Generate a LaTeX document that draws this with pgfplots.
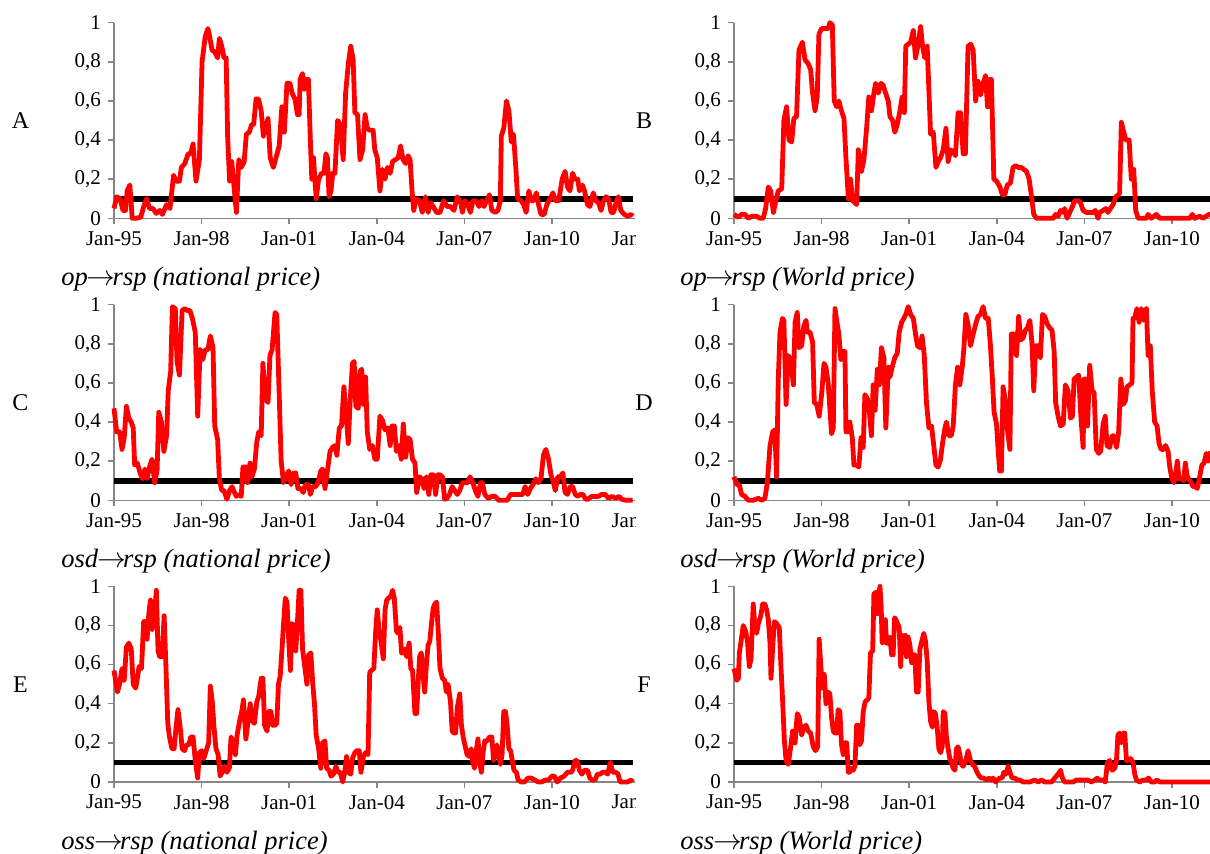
\documentclass[border=0pt]{standalone}
\usepackage{fontspec}
\setmainfont{Liberation Serif}
\usepackage{pgfplots}
\pgfplotsset{compat=1.18}
\definecolor{axisgray}{RGB}{134,134,134}
\pgfplotsset{panel/.style={
  scale only axis, width=262.76pt, height=97.8pt,
  xmin=0, xmax=216, ymin=0, ymax=1,
  axis x line*=bottom, axis y line*=left,
  axis line style={draw=axisgray, line width=0.75pt, -},
  xtick={0,36,72,108,144,180,216},
  xticklabels={Jan-95,Jan-98,Jan-01,Jan-04,Jan-07,Jan-10,Jan-13},
  ytick={0,0.2,0.4,0.6,0.8,1},
  yticklabels={0,{0,2},{0,4},{0,6},{0,8},1},
  tick style={draw=axisgray, line width=0.75pt},
  major tick length=3pt, tick align=outside,
  ticklabel style={font=\fontsize{10.5}{12}\selectfont},
  anchor=south west, clip=false},
  rpanel/.style={panel, xtick={0,36,72,108,144,180},
  xticklabels={Jan-95,Jan-98,Jan-01,Jan-04,Jan-07,Jan-10}}}
\tikzset{thr/.style={black, line width=2.8pt}, ser/.style={red, line width=2.4pt, line join=round}}
\newcommand{\capfont}{\fontsize{13.25}{15}\selectfont\itshape}
\newcommand{\letfont}{\fontsize{12}{14}\selectfont}
\newcommand{\arr}{\hspace{-0.5pt}$\rightarrow$\hspace{-1.5pt}}
\begin{document}
\begin{tikzpicture}
\useasboundingbox (0,0) rectangle (605pt,427pt);
\begin{scope}
\clip (0,0) rectangle (317.5pt,427pt);
% Panel A
\begin{axis}[panel, at={(57pt,317.85pt)}]
\addplot[thr] coordinates {(0,0.1)(213.5,0.1)};
\addplot[ser] coordinates {(0,0.05)(1.1,0.11)(2.5,0.10)(3.7,0.04)(4.7,0.04)(5.4,0.14)(6.5,0.17)(7.5,0)(8.9,0)(11,0.005)(12.2,0.06)(13.4,0.10)(14.6,0.05)(16,0.05)(17.4,0.025)(18.8,0.04)(19.9,0.02)(21.6,0.07)(23,0.05)(24.5,0.22)(25.5,0.19)(26.9,0.19)(27.7,0.26)(29.1,0.28)(30.5,0.33)(31.5,0.33)(32.5,0.38)(33.7,0.19)(35.1,0.30)(36.2,0.80)(37.5,0.93)(38.6,0.97)(39.3,0.93)(40.3,0.86)(41.4,0.85)(42.6,0.82)(43.3,0.92)(44.3,0.88)(45.2,0.82)(46.1,0.82)(46.7,0.42)(47.5,0.19)(48.4,0.29)(49.2,0.18)(50.3,0.03)(51.3,0.30)(52.3,0.26)(53.5,0.29)(54.4,0.43)(55.6,0.44)(56.6,0.48)(57.4,0.48)(58.4,0.61)(59.4,0.61)(60.5,0.55)(61.4,0.42)(62.4,0.47)(63.3,0.51)(64.2,0.31)(65.5,0.26)(66.6,0.31)(67.9,0.37)(69,0.57)(70,0.44)(71.1,0.69)(72.3,0.69)(73.2,0.64)(74.4,0.61)(75.4,0.53)(76.1,0.53)(76.5,0.71)(77.5,0.74)(78.2,0.66)(78.9,0.71)(79.9,0.71)(80.7,0.40)(81.3,0.20)(82,0.31)(83.1,0.10)(84.1,0.20)(85.3,0.23)(86.3,0.23)(87.1,0.33)(87.7,0.31)(88.4,0.11)(89.2,0.14)(89.9,0.23)(90.8,0.23)(91.9,0.50)(93,0.48)(94.2,0.30)(95.2,0.64)(96.3,0.79)(97.3,0.88)(98.3,0.81)(99,0.54)(100.1,0.53)(101.1,0.30)(102.2,0.35)(103.2,0.53)(104.1,0.46)(105.1,0.45)(106.5,0.45)(107.2,0.35)(108.2,0.31)(109.3,0.14)(110.3,0.25)(111.4,0.20)(112.4,0.26)(113.5,0.23)(114.5,0.29)(115.7,0.30)(116.8,0.31)(117.8,0.37)(118.8,0.30)(119.9,0.28)(120.9,0.32)(121.7,0.30)(122.5,0.14)(123.2,0.04)(124.1,0.10)(125.6,0.09)(126.7,0.03)(128,0.11)(129.1,0.03)(130.1,0.08)(131.2,0.06)(132.6,0.03)(134,0.03)(135.5,0.09)(136.9,0.06)(138.3,0.06)(139.7,0.04)(141.1,0.11)(142.5,0.08)(143.2,0.03)(144.2,0.09)(145.4,0.07)(146.5,0.03)(147.5,0.09)(148.9,0.09)(150,0.06)(151,0.09)(152.1,0.06)(153.1,0.09)(154.3,0.12)(155.3,0.04)(156.7,0.03)(157.8,0.04)(158.8,0.09)(159.2,0.42)(160.2,0.46)(161.3,0.60)(162.3,0.55)(163.3,0.39)(164.2,0.43)(165.2,0.25)(165.9,0.10)(167.3,0.09)(168.4,0.07)(169.4,0.03)(170.5,0.14)(171.5,0.09)(172.5,0.09)(173.6,0.13)(174.3,0.08)(175.5,0.02)(176.8,0.02)(177.9,0.07)(179.3,0.10)(180.4,0.13)(181.4,0.09)(182.8,0.09)(184.2,0.20)(185.4,0.24)(186.4,0.16)(187.4,0.14)(188.5,0.23)(189.5,0.20)(190.6,0.20)(191.3,0.14)(192.5,0.17)(193.4,0.14)(194.6,0.07)(195.6,0.06)(197,0.13)(198,0.09)(199.1,0.08)(200.2,0.04)(201.2,0.09)(202.2,0.11)(203.3,0.10)(204.3,0.03)(205.4,0.03)(206.5,0.09)(207.3,0.11)(208.3,0.04)(209.7,0.02)(211.1,0.01)(212.5,0.02)(213.2,0.01)};
\end{axis}
% Panel C
\begin{axis}[panel, at={(57pt,176.85pt)}]
\addplot[thr] coordinates {(0,0.1)(213.5,0.1)};
\addplot[ser] coordinates {(0,0.47)(1.1,0.35)(2.3,0.35)(3.3,0.26)(4.2,0.32)(5.1,0.48)(6.1,0.42)(7.1,0.40)(7.9,0.37)(8.5,0.18)(9.6,0.19)(10.7,0.14)(11.7,0.11)(12.7,0.16)(13.6,0.11)(14.6,0.17)(15.6,0.21)(16.7,0.09)(17.7,0.15)(18.4,0.45)(19.5,0.40)(20.5,0.25)(21.6,0.33)(22.3,0.56)(23.3,0.66)(24,0.99)(25.2,0.98)(25.9,0.71)(26.9,0.64)(28,0.97)(29.1,0.98)(30.1,0.97)(31.2,0.97)(32.2,0.93)(33.4,0.86)(34.4,0.43)(35.4,0.77)(36.5,0.72)(37.5,0.77)(38.6,0.77)(39.6,0.84)(40.7,0.78)(41.4,0.38)(42.6,0.31)(43.3,0.11)(44.3,0.05)(45.2,0.05)(46.4,0.005)(47.5,0.05)(48.5,0.07)(49.5,0.04)(50.3,0.02)(51.3,0.03)(52.3,0.02)(53,0.17)(54.2,0.17)(54.9,0.09)(55.9,0.19)(56.7,0.12)(57.7,0.16)(58.7,0.30)(59.5,0.35)(60.5,0.33)(61.2,0.70)(62.2,0.52)(63.3,0.50)(64.1,0.74)(65,0.77)(66.2,0.96)(66.9,0.95)(67.9,0.54)(68.7,0.20)(69.7,0.09)(70.7,0.12)(71.8,0.15)(72.8,0.08)(73.7,0.14)(74.7,0.14)(75.6,0.06)(76.8,0.06)(77.8,0.04)(78.6,0.08)(79.9,0.08)(80.7,0.03)(81.7,0.07)(82.9,0.07)(83.9,0.09)(85,0.15)(85.7,0.16)(86.7,0.06)(87.7,0.15)(88.8,0.25)(89.8,0.27)(90.8,0.28)(91.6,0.23)(92.6,0.37)(93.5,0.38)(94.5,0.58)(95.3,0.45)(96.3,0.29)(97,0.49)(98,0.70)(98.7,0.71)(99.4,0.48)(100.4,0.47)(101.1,0.66)(101.8,0.67)(102.5,0.49)(103.4,0.63)(104.1,0.35)(105.1,0.26)(106.2,0.28)(107.2,0.21)(108.2,0.21)(109.3,0.43)(110.3,0.41)(111.4,0.36)(112.6,0.37)(113.5,0.28)(114.3,0.38)(115.2,0.38)(116.1,0.25)(117.1,0.28)(118.1,0.21)(118.9,0.39)(119.9,0.22)(120.9,0.32)(121.7,0.31)(122.7,0.21)(123.7,0.19)(124.4,0.04)(125.6,0.12)(126.6,0.11)(127.4,0.06)(128.4,0.12)(129.4,0.03)(130.2,0.13)(131.2,0.13)(132.2,0.03)(133.1,0.13)(134,0.13)(135,0.12)(135.9,0.005)(136.9,0.01)(137.9,0.03)(139,0.07)(140,0.05)(141.1,0.03)(142.1,0.05)(143.2,0.09)(144.2,0.09)(145.4,0.09)(146.3,0.12)(147.5,0.09)(148.5,0.05)(149.6,0.02)(150.6,0.09)(151.4,0.09)(152.4,0.03)(153.8,0.01)(155.3,0.02)(156.7,0.02)(158.1,0)(159.5,0)(161.6,0)(163,0.03)(164.4,0.03)(166.6,0.03)(168,0.03)(169,0.07)(170.1,0.03)(171.1,0.06)(172.2,0.08)(173.4,0.11)(174.3,0.09)(175.5,0.11)(176.5,0.23)(177.5,0.26)(178.6,0.21)(179.6,0.13)(180.4,0.10)(181.4,0.05)(182.4,0.12)(183.5,0.12)(184.5,0.14)(185.4,0.04)(186.4,0.03)(187.5,0.07)(188.5,0.07)(189.6,0.03)(190.6,0.02)(191.7,0.03)(192.7,0.03)(193.9,0.005)(194.8,0.005)(196.3,0.02)(197.7,0.02)(199.1,0.02)(200.5,0.03)(201.9,0.03)(203.3,0.01)(204.7,0.02)(206.2,0.01)(207.6,0.02)(208.7,0.005)(210.3,0)(213.2,0)};
\end{axis}
% Panel E
\begin{axis}[panel, at={(57pt,36pt)}]
\addplot[thr] coordinates {(0,0.1)(213.5,0.1)};
\addplot[ser] coordinates {(0,0.57)(1.4,0.46)(2.3,0.50)(3.3,0.58)(4.2,0.52)(5.1,0.69)(6.1,0.71)(7.1,0.68)(7.9,0.50)(8.9,0.48)(9.6,0.53)(10.3,0.59)(11.3,0.58)(12.2,0.82)(12.9,0.82)(13.6,0.73)(14.3,0.86)(15,0.93)(15.7,0.78)(16.7,0.86)(17.4,0.98)(18.1,0.67)(18.8,0.64)(19.8,0.64)(20.6,0.85)(21.4,0.57)(22.1,0.30)(22.8,0.23)(23.8,0.17)(24.7,0.17)(25.5,0.28)(26.3,0.37)(27.3,0.27)(28,0.17)(29,0.16)(29.8,0.19)(30.8,0.19)(31.5,0.23)(32.5,0.23)(33.4,0.11)(34.4,0.02)(35.1,0.15)(36.1,0.16)(36.9,0.12)(37.9,0.16)(38.9,0.20)(39.6,0.49)(40.4,0.41)(41.1,0.28)(41.9,0.17)(42.8,0.14)(43.6,0.03)(44.5,0.05)(45.4,0.08)(46.4,0.05)(47.4,0.07)(48.1,0.23)(48.9,0.21)(49.9,0.14)(50.6,0.24)(51.6,0.31)(52.5,0.36)(53.2,0.42)(54.2,0.22)(55.1,0.31)(56,0.40)(57,0.31)(57.7,0.30)(58.7,0.41)(59.5,0.44)(60.5,0.53)(61.2,0.53)(61.9,0.29)(62.9,0.26)(63.6,0.36)(64.5,0.36)(65.2,0.29)(66.2,0.29)(66.9,0.30)(67.6,0.50)(68.3,0.54)(69,0.67)(69.7,0.81)(70.4,0.94)(71.1,0.92)(71.8,0.73)(72.5,0.57)(73.2,0.81)(74,0.80)(74.7,0.67)(75.4,0.82)(76.1,0.98)(76.8,0.98)(77.5,0.68)(78.5,0.58)(79.3,0.50)(80,0.65)(80.9,0.66)(81.7,0.50)(82.4,0.40)(83.1,0.24)(84.1,0.17)(85,0.07)(85.7,0.20)(86.7,0.21)(87.4,0.07)(88.4,0.06)(89.2,0.03)(90.2,0.04)(91.2,0.08)(92.1,0.05)(93,0.05)(94,0.00)(94.7,0.04)(95.6,0.13)(96.3,0.05)(97.3,0.04)(98,0.12)(99,0.15)(99.8,0.16)(100.8,0.16)(101.5,0.05)(102.5,0.13)(103.4,0.15)(104.4,0.14)(105.1,0.56)(105.8,0.57)(106.8,0.58)(107.5,0.76)(108.2,0.88)(108.9,0.78)(109.7,0.72)(110.7,0.63)(111.4,0.88)(112.1,0.93)(112.8,0.94)(113.8,0.95)(114.5,0.98)(115.2,0.94)(116.1,0.77)(116.8,0.76)(117.5,0.79)(118.2,0.66)(118.9,0.66)(119.6,0.68)(120.3,0.64)(121.3,0.71)(122,0.58)(122.7,0.57)(123.7,0.35)(124.4,0.35)(124.9,0.48)(125.6,0.64)(126.3,0.66)(127,0.55)(127.7,0.46)(128.4,0.60)(129.1,0.70)(129.8,0.72)(130.5,0.81)(131.2,0.89)(131.9,0.91)(132.6,0.92)(133.3,0.76)(134,0.58)(135,0.53)(135.9,0.52)(136.6,0.46)(137.3,0.50)(138.3,0.41)(139,0.26)(139.7,0.25)(140.4,0.25)(141.1,0.38)(142.1,0.45)(142.8,0.29)(143.5,0.23)(144.4,0.18)(145.1,0.14)(146.1,0.13)(146.8,0.17)(147.5,0.10)(148.2,0.07)(148.9,0.16)(149.6,0.22)(150.3,0.10)(151,0.05)(151.7,0.15)(152.4,0.21)(153.4,0.21)(154.3,0.23)(155.3,0.23)(156,0.11)(156.7,0.14)(157.4,0.19)(158.1,0.14)(158.8,0.09)(159.5,0.14)(160.2,0.36)(160.9,0.36)(161.6,0.29)(162.3,0.17)(163,0.16)(163.7,0.11)(164.4,0.06)(165.4,0.05)(166.1,0.01)(167.3,0)(168.7,0)(170.1,0.02)(171.5,0.02)(172.9,0.01)(174.3,0)(175.8,0)(177.2,0.01)(178.6,0.01)(180,0.03)(181,0.03)(182.1,0)(183.5,0.02)(185,0.03)(186.4,0.05)(187.8,0.05)(188.5,0.06)(189.5,0.11)(190.3,0.11)(191.3,0.06)(192.3,0.04)(193.4,0.06)(194.6,0.06)(195.6,0.02)(196.5,0.01)(197.7,0.01)(198.7,0.04)(199.8,0.04)(200.8,0.05)(201.9,0.05)(202.9,0.04)(204,0.10)(205,0.05)(206.2,0.05)(207.2,0.04)(208,0)(209,0)(211.1,0)(212.5,0.01)(213.2,0)};
\end{axis}
\end{scope}
\begin{scope}
\clip (0,0) rectangle (605pt,427pt);
% Panel B
\begin{axis}[rpanel, at={(367pt,317.85pt)}]
\addplot[thr] coordinates {(0,0.1)(216,0.1)};
\addplot[ser] coordinates {(0,0.02)(1.8,0.005)(3.1,0.02)(4.5,0.02)(5.9,0)(7.3,0.01)(9.3,0.01)(10.7,0)(12,0)(13,0.05)(14.1,0.16)(15.1,0.14)(16.2,0.03)(17.2,0.09)(18.2,0.14)(19.6,0.15)(20.5,0.50)(21.6,0.57)(22.6,0.40)(23.7,0.39)(24.6,0.51)(25.7,0.52)(26.7,0.86)(28.1,0.90)(29.2,0.81)(30.5,0.79)(31.5,0.76)(32.3,0.64)(33.3,0.55)(34.2,0.62)(34.9,0.94)(36,0.97)(37.4,0.97)(38.7,0.97)(39.4,1.0)(40.4,0.99)(41.2,0.60)(42.2,0.57)(43.1,0.60)(43.9,0.56)(45.2,0.51)(46,0.31)(47,0.10)(47.9,0.20)(48.7,0.09)(49.7,0.08)(50.4,0.07)(51.1,0.35)(51.7,0.32)(52.4,0.24)(53.4,0.30)(54.5,0.46)(55.4,0.62)(56.5,0.55)(57.5,0.64)(58.2,0.69)(59.3,0.64)(60.4,0.69)(61.3,0.68)(62.3,0.64)(63.4,0.60)(64.1,0.52)(65.2,0.50)(66.1,0.44)(67.1,0.48)(68.2,0.55)(69.1,0.62)(70,0.54)(70.6,0.88)(71.6,0.89)(72.6,0.90)(73.7,0.96)(74.6,0.82)(75.7,0.89)(76.7,0.98)(77.5,0.88)(78.4,0.82)(79.4,0.88)(80.8,0.43)(81.9,0.44)(83,0.26)(83.9,0.29)(84.9,0.31)(86,0.35)(87.1,0.46)(88,0.29)(89,0.35)(90.1,0.34)(91,0.32)(92.1,0.54)(93.1,0.54)(94.2,0.33)(95.1,0.33)(96.2,0.88)(97.3,0.89)(98.3,0.86)(99.3,0.60)(100.3,0.70)(101.3,0.63)(102.4,0.69)(103.4,0.73)(104.2,0.57)(105.1,0.71)(105.8,0.71)(106.8,0.20)(107.9,0.19)(109.3,0.16)(110.3,0.12)(111.3,0.12)(112.3,0.17)(113.6,0.18)(114.7,0.26)(115.8,0.27)(116.8,0.26)(118.1,0.26)(119.1,0.25)(120.2,0.24)(121.3,0.20)(122.3,0.11)(123.2,0.02)(124.3,0)(125.7,0)(131.2,0)(132.2,0.02)(133.2,0.01)(134.2,0.04)(135.3,0.03)(135.9,0.05)(136.9,0)(138,0.03)(139.1,0.06)(140,0.09)(141.4,0.09)(142.4,0.08)(143.5,0.04)(144.8,0.03)(146.2,0.03)(147.6,0.03)(148.5,0.04)(149.6,0)(150.3,0.03)(151.7,0.04)(152.8,0.05)(153.7,0.03)(154.7,0.05)(155.8,0.07)(156.9,0.11)(158,0.12)(158.5,0.13)(159.2,0.49)(160.2,0.44)(161,0.40)(162.4,0.40)(163.3,0.20)(164.3,0.25)(165.1,0.04)(166.1,0)(169.5,0)(170.2,0.02)(171.5,0)(173.6,0.02)(175,0)(187.3,0)(188.4,0.02)(189.3,0)(191.4,0.01)(192.8,0)(195.2,0.02)(197,0.02)};
\end{axis}
% Panel D
\begin{axis}[rpanel, at={(367pt,176.85pt)}]
\addplot[thr] coordinates {(0,0.1)(216,0.1)};
\addplot[ser] coordinates {(0,0.12)(1.1,0.08)(2.2,0.08)(3.1,0.03)(4.5,0.02)(5.9,0)(7.9,0)(10,0.01)(11.4,0)(12.7,0.01)(13.7,0.09)(14.8,0.28)(15.9,0.35)(16.8,0.36)(17.5,0.12)(18.2,0.62)(18.9,0.86)(19.9,0.93)(20.5,0.92)(21.4,0.49)(22.3,0.74)(23.3,0.72)(24.4,0.59)(25.1,0.91)(26,0.96)(26.7,0.78)(27.8,0.79)(28.7,0.89)(29.6,0.92)(30.1,0.86)(31.2,0.86)(32.3,0.81)(33,0.50)(34,0.49)(35,0.43)(36,0.54)(37,0.70)(37.8,0.68)(38.7,0.60)(39.4,0.47)(40.1,0.34)(40.8,0.37)(41.5,0.98)(42.2,0.92)(43.1,0.85)(43.9,0.72)(44.6,0.76)(45.6,0.76)(46,0.35)(47,0.35)(47.6,0.40)(48.6,0.32)(49.3,0.18)(50.4,0.18)(51.3,0.17)(52.2,0.32)(53.1,0.27)(53.8,0.54)(54.8,0.52)(55.6,0.46)(56.5,0.33)(57.2,0.59)(58,0.46)(58.9,0.67)(59.7,0.59)(60.6,0.78)(61.6,0.73)(62.4,0.37)(63.4,0.68)(64.1,0.63)(65,0.68)(66.1,0.73)(67.1,0.75)(67.9,0.86)(68.9,0.91)(69.8,0.93)(70.6,0.95)(71.6,0.99)(72.6,0.95)(73.7,0.93)(74.6,0.85)(75.4,0.79)(76.4,0.78)(77.3,0.84)(78.2,0.74)(79.1,0.50)(80.1,0.37)(81.2,0.38)(82.1,0.28)(83,0.18)(83.9,0.17)(84.9,0.21)(85.7,0.29)(86.7,0.37)(87.3,0.40)(88.3,0.33)(89.3,0.33)(90.1,0.38)(91,0.59)(91.9,0.68)(92.8,0.59)(93.8,0.68)(94.5,0.78)(95.3,0.95)(96.2,0.90)(97.2,0.79)(98.3,0.85)(99.3,0.90)(100.3,0.94)(101.3,0.95)(102.4,0.99)(103.4,0.93)(104.5,0.93)(105.4,0.79)(106.2,0.62)(106.9,0.45)(107.9,0.39)(108.6,0.25)(109.2,0.15)(109.9,0.15)(110.6,0.58)(111.6,0.51)(112.3,0.37)(113.4,0.26)(114,0.85)(115,0.85)(116.1,0.74)(117,0.94)(117.9,0.82)(118.8,0.83)(119.8,0.87)(120.6,0.88)(121.6,0.92)(122.5,0.80)(123.2,0.56)(124,0.79)(125,0.79)(125.9,0.73)(126.8,0.95)(127.7,0.94)(128.8,0.90)(129.8,0.88)(130.7,0.87)(131.6,0.76)(132.2,0.50)(133.2,0.43)(134.2,0.38)(135.3,0.39)(136.2,0.59)(137.3,0.56)(138.3,0.42)(139.1,0.43)(139.8,0.62)(140.7,0.63)(141.7,0.64)(142.5,0.44)(143.5,0.27)(143.9,0.62)(144.6,0.62)(145.3,0.38)(146.2,0.69)(147.2,0.56)(148,0.55)(148.9,0.26)(149.9,0.24)(150.7,0.25)(151.7,0.39)(152.6,0.43)(153.3,0.28)(154.4,0.27)(155.4,0.33)(156.2,0.33)(157.2,0.27)(158.1,0.35)(159,0.62)(159.9,0.49)(160.9,0.51)(161.5,0.58)(162.6,0.59)(163.6,0.60)(164,0.93)(164.7,0.93)(165.6,0.98)(166.5,0.91)(167.4,0.98)(168.4,0.92)(169.5,0.98)(170.2,0.74)(171.1,0.79)(171.9,0.56)(172.9,0.40)(173.9,0.38)(174.7,0.29)(175.6,0.26)(176.6,0.26)(177.4,0.28)(178.4,0.25)(179.1,0.17)(180,0.11)(180.8,0.09)(181.5,0.13)(182.2,0.20)(182.9,0.11)(183.9,0.11)(184.8,0.10)(185.5,0.19)(186.3,0.12)(187.3,0.10)(188,0.09)(188.6,0.07)(189.6,0.07)(190.4,0.06)(191.4,0.12)(192.3,0.18)(193.2,0.19)(194.1,0.24)(194.9,0.20)(196,0.25)};
\end{axis}
% Panel F
\begin{axis}[rpanel, at={(367pt,36pt)}]
\addplot[thr] coordinates {(0,0.1)(216,0.1)};
\addplot[ser] coordinates {(0,0.58)(1.1,0.52)(1.8,0.53)(2.2,0.66)(2.9,0.72)(3.8,0.80)(4.8,0.77)(5.6,0.71)(6.3,0.59)(7,0.63)(7.9,0.91)(8.6,0.79)(9.3,0.76)(10,0.81)(11,0.85)(11.8,0.91)(12.7,0.91)(13.4,0.88)(14.1,0.83)(14.8,0.71)(15.2,0.53)(15.9,0.69)(16.6,0.82)(17.5,0.81)(18.6,0.79)(19.3,0.59)(20,0.41)(20.7,0.21)(21.4,0.11)(22.3,0.09)(23.3,0.18)(24.1,0.26)(25.1,0.20)(26,0.35)(26.8,0.33)(27.8,0.24)(28.7,0.28)(29.6,0.29)(30.5,0.26)(31.5,0.25)(32.6,0.18)(33.5,0.16)(34.4,0.18)(35,0.73)(35.7,0.59)(36.4,0.48)(37.1,0.55)(37.8,0.40)(38.7,0.46)(39.4,0.45)(40.1,0.33)(40.8,0.26)(41.5,0.25)(42.2,0.25)(42.8,0.37)(43.5,0.36)(44.2,0.19)(44.9,0.14)(45.6,0.20)(46.3,0.20)(47,0.05)(47.6,0.05)(48.3,0.07)(49,0.06)(49.7,0.08)(50.4,0.29)(51.1,0.29)(51.7,0.19)(52.4,0.21)(53.1,0.36)(53.9,0.41)(54.8,0.42)(55.4,0.43)(56.1,0.66)(57,0.67)(57.5,0.96)(58.2,0.97)(58.9,0.86)(59.4,0.95)(60,1.0)(60.5,0.89)(60.9,0.71)(61.6,0.73)(62.2,0.83)(62.7,0.71)(63.5,0.71)(64.1,0.74)(64.8,0.65)(65.4,0.65)(66,0.84)(66.5,0.83)(67.2,0.81)(67.9,0.79)(68.5,0.59)(69,0.75)(69.8,0.70)(70.4,0.75)(70.9,0.64)(71.6,0.74)(72.3,0.70)(73,0.61)(73.7,0.65)(74.3,0.65)(75,0.46)(75.7,0.46)(76.4,0.68)(77.2,0.72)(78,0.76)(78.7,0.72)(79.4,0.62)(80.1,0.41)(80.8,0.31)(81.5,0.28)(82.1,0.36)(82.8,0.35)(83.5,0.28)(84.2,0.17)(84.9,0.15)(85.6,0.18)(86,0.36)(86.7,0.35)(87.3,0.23)(88,0.17)(88.7,0.12)(89.4,0.10)(90.1,0.07)(90.8,0.06)(91.4,0.17)(92.1,0.18)(92.8,0.14)(93.5,0.09)(94.2,0.08)(95.3,0.11)(96.2,0.16)(97.2,0.11)(98,0.09)(98.9,0.08)(99.9,0.05)(100.8,0.03)(101.7,0.02)(102.7,0.02)(103.8,0.01)(104.9,0.02)(105.8,0.01)(106.5,0.02)(107.5,0)(108.3,0.01)(109.2,0.02)(110.2,0.02)(110.9,0.05)(111.7,0.04)(112.7,0.08)(113.4,0.05)(114.3,0.02)(115.4,0.02)(116.4,0.01)(117.5,0.01)(118.8,0)(121.6,0)(123.6,0.01)(125,0)(126.4,0.01)(127.7,0)(129.1,0)(130.5,0)(131.8,0.02)(133.2,0.04)(134.2,0.06)(135,0.02)(135.9,0)(138,0)(139.4,0)(140.7,0.01)(142.1,0.01)(144.2,0.01)(145.5,0.01)(146.9,0)(148.3,0.01)(149.2,0.02)(150.3,0.01)(151.7,0.01)(152.6,0)(153.5,0.10)(154.4,0.11)(155.4,0.06)(156.5,0.07)(157.2,0.11)(157.8,0.24)(158.5,0.25)(159.2,0.20)(159.9,0.25)(160.6,0.25)(161.3,0.11)(162.2,0.11)(163,0.12)(164,0.10)(164.7,0.04)(165.4,0.01)(166.7,0)(168.1,0.01)(169.5,0.01)(170.4,0.02)(171.5,0)(172.9,0)(173.9,0.01)(175,0)(197,0)};
\end{axis}
\end{scope}
% panel letters
\node[font=\letfont] at (10.25pt,366.5pt) {A};
\node[font=\letfont] at (10.25pt,225.5pt) {C};
\node[font=\letfont] at (10.25pt,84.5pt) {E};
\node[font=\letfont] at (322pt,366.5pt) {B};
\node[font=\letfont] at (322pt,225.5pt) {D};
\node[font=\letfont] at (322pt,84.5pt) {F};
% captions
\node[font=\capfont, anchor=west, inner sep=0pt] at (30.5pt,287.5pt) {op\arr rsp (national price)};
\node[font=\capfont, anchor=west, inner sep=0pt] at (340pt,287.5pt) {op\arr rsp (World price)};
\node[font=\capfont, anchor=west, inner sep=0pt] at (30.5pt,146.5pt) {osd\arr rsp (national price)};
\node[font=\capfont, anchor=west, inner sep=0pt] at (340pt,146.5pt) {osd\arr rsp (World price)};
\node[font=\capfont, anchor=west, inner sep=0pt] at (30.5pt,5.65pt) {oss\arr rsp (national price)};
\node[font=\capfont, anchor=west, inner sep=0pt] at (340pt,5.65pt) {oss\arr rsp (World price)};
\end{tikzpicture}
\end{document}
